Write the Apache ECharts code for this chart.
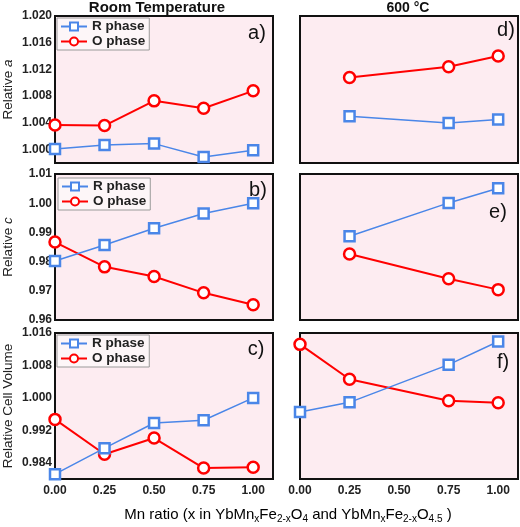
<!DOCTYPE html>
<html>
<head>
<meta charset="utf-8">
<script src="https://cdn.jsdelivr.net/npm/echarts@6/dist/echarts.min.js"></script>
<style>html,body{margin:0;padding:0;background:#fff;}#c{width:520px;height:527px;}</style>
</head>
<body>
<div id="c"></div>
<script>
// ---- data ----
var xRoom = [0, 0.25, 0.5, 0.75, 1.0];
var x600 = [0.25, 0.75, 1.0];
var x600f = [0, 0.25, 0.75, 1.0];

var aR = [1.0001, 1.0007, 1.0009, 0.9989, 0.9999];
var aO = [1.0037, 1.0036, 1.0073, 1.0062, 1.0088];
var dR = [1.0050, 1.0040, 1.0045];
var dO = [1.0108, 1.0124, 1.0140];

var bR = [0.9802, 0.9857, 0.9914, 0.9965, 1.0000];
var bO = [0.9867, 0.9782, 0.9749, 0.9693, 0.9652];
var eR = [0.9887, 1.0001, 1.0051];
var eO = [0.9826, 0.9741, 0.9704];

var cR = [0.9812, 0.9876, 0.9938, 0.9945, 1.0000];
var cO = [0.9947, 0.9861, 0.9901, 0.9827, 0.9829];
var fR = [0.9965, 0.9989, 1.0082, 1.0139];
var fO = [1.0132, 1.0046, 0.9993, 0.9988];

var xTicks = [0, 0.25, 0.5, 0.75, 1.0];
var aTicks = [1.000, 1.004, 1.008, 1.012, 1.016, 1.020];
var bTicks = [0.96, 0.97, 0.98, 0.99, 1.00, 1.01];
var cTicks = [0.984, 0.992, 1.000, 1.008, 1.016];

var seriesNames = ['R phase', 'O phase'];
var columnTitles = ['Room Temperature', '600 \u00b0C'];
var panelLabels = ['a)', 'b)', 'c)', 'd)', 'e)', 'f)'];

// ---- styles ----
var BLUE = '#4a86e8', RED = '#ff0000', BG = '#fdecf1';
var FONT = 'Liberation Sans, Arial, sans-serif';

function zip(xs, ys) { return xs.map(function (x, i) { return [x, ys[i]]; }); }

var grids = [
  {left: 55, top: 16, width: 218, height: 147},
  {left: 300, top: 16, width: 218, height: 147},
  {left: 55, top: 174, width: 218, height: 146},
  {left: 300, top: 174, width: 218, height: 146},
  {left: 55, top: 333, width: 218, height: 146},
  {left: 300, top: 333, width: 218, height: 146}
].map(function (g) {
  return Object.assign({show: true, backgroundColor: BG, borderColor: '#111', borderWidth: 2}, g);
});

var xAxes = grids.map(function (g, i) {
  var bottom = i >= 4;
  return {
    type: 'value', gridIndex: i, min: 0, max: 1.1,
    axisLine: {show: false}, axisTick: {show: false}, splitLine: {show: false},
    axisLabel: {
      show: bottom, customValues: xTicks, margin: 6,
      fontFamily: FONT, fontWeight: 'bold', fontSize: 12, color: '#222',
      formatter: function (v) { return v.toFixed(2); }
    }
  };
});

var yRanges = [[0.998, 1.020, aTicks, 3], [0.96, 1.01, bTicks, 2], [0.98, 1.016, cTicks, 3]];
var yNames = ['{n|Relative }{i|a}', '{n|Relative }{i|c}', '{n|Relative Cell Volume}'];
var yAxes = grids.map(function (g, i) {
  var row = Math.floor(i / 2), left = (i % 2 === 0);
  var r = yRanges[row];
  return {
    type: 'value', gridIndex: i, min: r[0], max: r[1],
    axisLine: {show: false}, axisTick: {show: false}, splitLine: {show: false},
    name: left ? yNames[row] : '', nameLocation: 'middle', nameGap: 40,
    nameTextStyle: {rich: {
      n: {fontFamily: FONT, fontSize: 13.5, color: '#222'},
      i: {fontFamily: FONT, fontSize: 13.5, color: '#222', fontStyle: 'italic'}
    }},
    axisLabel: {
      show: left, customValues: r[2], margin: 3,
      fontFamily: FONT, fontWeight: 'bold', fontSize: 12, color: '#222',
      formatter: (function (d) { return function (v) { return v.toFixed(d); }; })(r[3])
    }
  };
});

function mk(name, gi, xs, ys) {
  var isR = name === seriesNames[0];
  return {
    name: name, type: 'line', xAxisIndex: gi, yAxisIndex: gi,
    data: zip(xs, ys),
    symbol: isR ? 'rect' : 'circle', symbolSize: isR ? 10 : 11,
    lineStyle: {color: isR ? BLUE : RED, width: isR ? 1.5 : 2},
    itemStyle: {color: '#fff', borderColor: isR ? BLUE : RED, borderWidth: 2.5},
    emphasis: {disabled: true}, animation: false, z: isR ? 3 : 2
  };
}

var series = [
  mk(seriesNames[0], 0, xRoom, aR), mk(seriesNames[1], 0, xRoom, aO),
  mk(seriesNames[0], 1, x600, dR), mk(seriesNames[1], 1, x600, dO),
  mk(seriesNames[0], 2, xRoom, bR), mk(seriesNames[1], 2, xRoom, bO),
  mk(seriesNames[0], 3, x600, eR), mk(seriesNames[1], 3, x600, eO),
  mk(seriesNames[0], 4, xRoom, cR), mk(seriesNames[1], 4, xRoom, cO),
  mk(seriesNames[0], 5, x600f, fR), mk(seriesNames[1], 5, x600f, fO)
];

function legendAt(left, top) {
  return {
    data: seriesNames, left: left, top: top, orient: 'vertical',
    itemWidth: 26, itemHeight: 10, itemGap: 0, padding: [1, 4, 1, 3],
    backgroundColor: '#fdf6f8', borderColor: '#9a9a9a', borderWidth: 1, borderRadius: 0,
    textStyle: {fontFamily: FONT, fontWeight: 'bold', fontSize: 13.5, color: '#222', lineHeight: 15},
    selectedMode: false
  };
}

var labelPos = [[257, 33], [258, 190], [256, 349], [506, 30], [498, 212], [503, 362]];
var graphics = [
  {type: 'text', x: 157, y: 8, style: {text: columnTitles[0], font: 'bold 15px ' + FONT, fill: '#111', align: 'center', verticalAlign: 'middle'}},
  {type: 'text', x: 408, y: 8, style: {text: columnTitles[1], font: 'bold 14px ' + FONT, fill: '#111', align: 'center', verticalAlign: 'middle'}}
];
labelPos.forEach(function (p, i) {
  graphics.push({type: 'text', x: p[0], y: p[1], style: {text: panelLabels[i], font: '20px ' + FONT, fill: '#111', align: 'center', verticalAlign: 'middle'}});
});
graphics.push({
  type: 'text', x: 288, y: 515,
  style: {
    text: '{m|Mn ratio (x in YbMn}{s|x}{m|Fe}{s|2-x}{m|O}{s|4}{m| and YbMn}{s|x}{m|Fe}{s|2-x}{m|O}{s|4.5}{m| )}',
    align: 'center', verticalAlign: 'middle',
    rich: {
      m: {fontFamily: FONT, fontSize: 15, color: '#222', lineHeight: 20},
      s: {fontFamily: FONT, fontSize: 10, color: '#222', lineHeight: 11, padding: [9, 0, 0, 0]}
    }
  }
});

var chart = echarts.init(document.getElementById('c'), null, {renderer: 'canvas'});
chart.setOption({
  animation: false,
  backgroundColor: '#fff',
  grid: grids, xAxis: xAxes, yAxis: yAxes,
  legend: [legendAt(57, 18), legendAt(58, 178), legendAt(57, 335)],
  series: series,
  graphic: graphics
});
</script>
</body>
</html>
